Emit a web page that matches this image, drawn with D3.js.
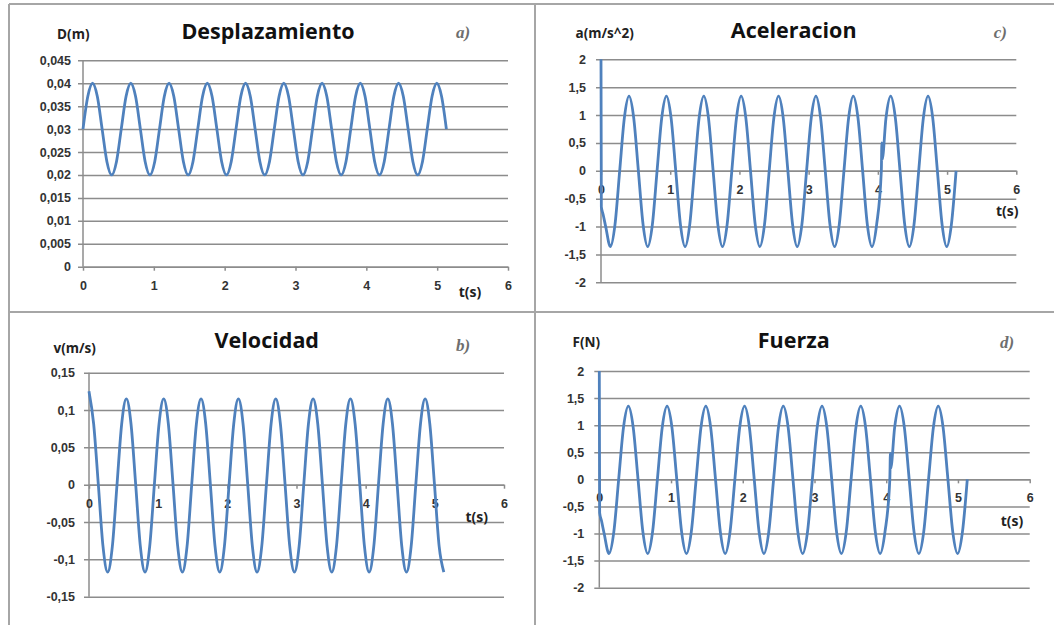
<!DOCTYPE html>
<html>
<head>
<meta charset="utf-8">
<script src="https://cdn.jsdelivr.net/npm/d3@7"></script>
<style>
  body { margin: 0; background: #fff; }
  svg { display: block; font-family: "Open Sans", "Noto Sans", sans-serif; }
</style>
</head>
<body>
<div id="chart"></div>
<script>
// time samples (s), every 1/8 of a period
const tiempo = [
  0, 0.0675, 0.135, 0.2025, 0.27, 0.3375, 0.405, 0.4725,
  0.54, 0.6075, 0.675, 0.7425, 0.81, 0.8775, 0.945, 1.0125,
  1.08, 1.1475, 1.215, 1.2825, 1.35, 1.4175, 1.485, 1.5525,
  1.62, 1.6875, 1.755, 1.8225, 1.89, 1.9575, 2.025, 2.0925,
  2.16, 2.2275, 2.295, 2.3625, 2.43, 2.4975, 2.565, 2.6325,
  2.7, 2.7675, 2.835, 2.9025, 2.97, 3.0375, 3.105, 3.1725,
  3.24, 3.3075, 3.375, 3.4425, 3.51, 3.5775, 3.645, 3.7125,
  3.78, 3.8475, 3.915, 3.9825, 4.05, 4.1175, 4.185, 4.2525,
  4.32, 4.3875, 4.455, 4.5225, 4.59, 4.6575, 4.725, 4.7925,
  4.86, 4.9275, 4.995, 5.0625, 5.13
];

// a) D(m)
const desplazamiento = [
  0.03, 0.0371, 0.04, 0.0371, 0.03, 0.0229, 0.02, 0.0229,
  0.03, 0.0371, 0.04, 0.0371, 0.03, 0.0229, 0.02, 0.0229,
  0.03, 0.0371, 0.04, 0.0371, 0.03, 0.0229, 0.02, 0.0229,
  0.03, 0.0371, 0.04, 0.0371, 0.03, 0.0229, 0.02, 0.0229,
  0.03, 0.0371, 0.04, 0.0371, 0.03, 0.0229, 0.02, 0.0229,
  0.03, 0.0371, 0.04, 0.0371, 0.03, 0.0229, 0.02, 0.0229,
  0.03, 0.0371, 0.04, 0.0371, 0.03, 0.0229, 0.02, 0.0229,
  0.03, 0.0371, 0.04, 0.0371, 0.03, 0.0229, 0.02, 0.0229,
  0.03, 0.0371, 0.04, 0.0371, 0.03, 0.0229, 0.02, 0.0229,
  0.03, 0.0371, 0.04, 0.0371, 0.03
];

// b) v(m/s)
const velocidad = [
  0.125, 0.0813, 0, -0.0827, -0.117, -0.0827, 0, 0.0813,
  0.115, 0.0813, 0, -0.0827, -0.117, -0.0827, 0, 0.0813,
  0.115, 0.0813, 0, -0.0827, -0.117, -0.0827, 0, 0.0813,
  0.115, 0.0813, 0, -0.0827, -0.117, -0.0827, 0, 0.0813,
  0.115, 0.0813, 0, -0.0827, -0.117, -0.0827, 0, 0.0813,
  0.115, 0.0813, 0, -0.0827, -0.117, -0.0827, 0, 0.0813,
  0.115, 0.0813, 0, -0.0827, -0.117, -0.0827, 0, 0.0813,
  0.115, 0.0813, 0, -0.0827, -0.117, -0.0827, 0, 0.0813,
  0.115, 0.0813, 0, -0.0827, -0.117, -0.0827, 0, 0.0813,
  0.115, 0.0813, 0, -0.0827, -0.117
];

// c) a(m/s^2)
const aceleracion = [
  2, -1.0, -1.36, -0.96, 0, 0.95, 1.34, 0.95,
  0, -0.96, -1.36, -0.96, 0, 0.95, 1.34, 0.95,
  0, -0.96, -1.36, -0.96, 0, 0.95, 1.34, 0.95,
  0, -0.96, -1.36, -0.96, 0, 0.95, 1.34, 0.95,
  0, -0.96, -1.36, -0.96, 0, 0.95, 1.34, 0.95,
  0, -0.96, -1.36, -0.96, 0, 0.95, 1.34, 0.95,
  0, -0.96, -1.36, -0.96, 0, 0.95, 1.34, 0.95,
  0, -0.96, -1.36, -0.96, 0, 0.95, 1.34, 0.95,
  0, -0.96, -1.36, -0.96, 0, 0.95, 1.34, 0.95,
  0, -0.96, -1.36, -0.96, 0
];

// d) F(N)
const fuerza = [
  2, -1.0, -1.37, -0.97, 0, 0.96, 1.35, 0.96,
  0, -0.97, -1.37, -0.97, 0, 0.96, 1.35, 0.96,
  0, -0.97, -1.37, -0.97, 0, 0.96, 1.35, 0.96,
  0, -0.97, -1.37, -0.97, 0, 0.96, 1.35, 0.96,
  0, -0.97, -1.37, -0.97, 0, 0.96, 1.35, 0.96,
  0, -0.97, -1.37, -0.97, 0, 0.96, 1.35, 0.96,
  0, -0.97, -1.37, -0.97, 0, 0.96, 1.35, 0.96,
  0, -0.97, -1.37, -0.97, 0, 0.96, 1.35, 0.96,
  0, -0.97, -1.37, -0.97, 0, 0.96, 1.35, 0.96,
  0, -0.97, -1.37, -0.97, 0
];

// odd points in c) and d): the drop at t=0 and the little spike near t=4
const aceleracionExtra = [[0.005, -0.65], [0.03, -0.78], [4.058, 0.5], [4.062, 0.2]];
const fuerzaExtra = [[0.005, -0.62], [0.03, -0.76], [4.058, 0.48], [4.062, 0.2]];

// ticks
const tTicks = [0, 1, 2, 3, 4, 5, 6];
const dTicks = [0, 0.005, 0.01, 0.015, 0.02, 0.025, 0.03, 0.035, 0.04, 0.045];
const vTicks = [-0.15, -0.1, -0.05, 0, 0.05, 0.1, 0.15];
const aTicks = [-2, -1.5, -1, -0.5, 0, 0.5, 1, 1.5, 2];
const fTicks = [-2, -1.5, -1, -0.5, 0, 0.5, 1, 1.5, 2];

const lineColor = "#4f81bd";
const gridColor = "#8c8c8c";
const fmt = (d) => String(d).replace(".", ",");

const svg = d3
  .select("#chart")
  .append("svg")
  .attr("width", 1054)
  .attr("height", 625);

// panel frame
const frame = [
  [9, 4, 1054, 4],
  [9, 4, 9, 625],
  [535, 4, 535, 625],
  [9, 312, 1054, 312],
];
svg
  .append("g")
  .selectAll("line")
  .data(frame)
  .enter()
  .append("line")
  .attr("x1", (d) => d[0])
  .attr("y1", (d) => d[1])
  .attr("x2", (d) => d[2])
  .attr("y2", (d) => d[3])
  .attr("stroke", "#a6a6a6")
  .attr("stroke-width", 2);

const panels = [
  {
    values: desplazamiento, extra: [], yTicks: dTicks, yDomain: [0, 0.045],
    left: 83, right: 508, top: 60.3, bottom: 266.7, gap: 12,
    title: "Desplazamiento", titleX: 268, titleY: 38.5,
    unit: "D(m)", unitX: 73.3, unitY: 39,
    letter: "a)", letterX: 463, letterY: 38,
    tX: 470, tY: 297,
  },
  {
    values: velocidad, extra: [], yTicks: vTicks, yDomain: [-0.15, 0.15],
    left: 89, right: 504, top: 372.7, bottom: 596.7, gap: 14,
    title: "Velocidad", titleX: 266.8, titleY: 347.5,
    unit: "v(m/s)", unitX: 74.7, unitY: 353,
    letter: "b)", letterX: 463, letterY: 351,
    tX: 476.7, tY: 522,
  },
  {
    values: aceleracion, extra: aceleracionExtra, yTicks: aTicks, yDomain: [-2, 2],
    left: 601, right: 1016.3, top: 59.3, bottom: 282.3, gap: 15,
    title: "Aceleracion", titleX: 793.7, titleY: 38.3,
    unit: "a(m/s^2)", unitX: 604.7, unitY: 38,
    letter: "c)", letterX: 1000.3, letterY: 38,
    tX: 1007.3, tY: 215.5,
  },
  {
    values: fuerza, extra: fuerzaExtra, yTicks: fTicks, yDomain: [-2, 2],
    left: 599.3, right: 1029.7, top: 371, bottom: 587.7, gap: 15,
    title: "Fuerza", titleX: 793.7, titleY: 347.5,
    unit: "F(N)", unitX: 586.3, unitY: 346.5,
    letter: "d)", letterX: 1007, letterY: 348,
    tX: 1012, tY: 526,
  },
];

const drawPanel = (p) => {
  const x = d3.scaleLinear().domain([0, 6]).range([p.left, p.right]);
  const y = d3.scaleLinear().domain(p.yDomain).range([p.bottom, p.top]);

  // gridlines and y labels
  svg
    .append("g")
    .attr("transform", "translate(" + (p.left - 5) + ",0)")
    .call(
      d3
        .axisLeft(y)
        .tickValues(p.yTicks)
        .tickSize(-(p.right - p.left + 5))
        .tickPadding(p.gap - 5)
        .tickFormat(fmt)
    )
    .call((g) => g.select(".domain").remove())
    .call((g) =>
      g.selectAll("line").attr("stroke", gridColor).attr("stroke-width", 1.5)
    )
    .call((g) =>
      g
        .selectAll("text")
        .attr("fill", "#333")
        .style("font-size", "12.5px")
        .style("font-weight", "bold")
    );

  // y axis line
  svg
    .append("line")
    .attr("x1", p.left)
    .attr("x2", p.left)
    .attr("y1", p.top)
    .attr("y2", p.bottom)
    .attr("stroke", gridColor)
    .attr("stroke-width", 1.5);

  // x axis at value 0
  svg
    .append("g")
    .attr("transform", "translate(0," + y(0) + ")")
    .call(
      d3
        .axisBottom(x)
        .tickValues(tTicks)
        .tickSize(4)
        .tickSizeOuter(0)
        .tickPadding(10)
        .tickFormat(fmt)
    )
    .call((g) =>
      g
        .selectAll("line, path")
        .attr("stroke", gridColor)
        .attr("stroke-width", 1.5)
    )
    .call((g) =>
      g
        .selectAll("text")
        .attr("fill", "#333")
        .style("font-size", "12.5px")
        .style("font-weight", "bold")
    );

  // the curve
  const pts = tiempo
    .map((t, i) => [t, p.values[i]])
    .concat(p.extra)
    .sort((a, b) => a[0] - b[0]);

  const line = d3
    .line()
    .x((d) => x(d[0]))
    .y((d) => y(d[1]))
    .curve(d3.curveMonotoneX);

  svg
    .append("path")
    .datum(pts)
    .attr("fill", "none")
    .attr("stroke", lineColor)
    .attr("stroke-width", 2.8)
    .attr("stroke-linejoin", "round")
    .attr("d", line);

  // title
  svg
    .append("text")
    .attr("x", p.titleX)
    .attr("y", p.titleY)
    .style("text-anchor", "middle")
    .style("font-size", "21.5px")
    .style("font-weight", "bold")
    .attr("fill", "#111")
    .text(p.title);

  // unit label
  svg
    .append("text")
    .attr("x", p.unitX)
    .attr("y", p.unitY)
    .style("text-anchor", "middle")
    .style("font-size", "13.5px")
    .style("font-weight", "bold")
    .attr("fill", "#222")
    .text(p.unit);

  // panel letter
  svg
    .append("text")
    .attr("x", p.letterX)
    .attr("y", p.letterY)
    .style("text-anchor", "middle")
    .style("font-family", "'Liberation Serif', 'DejaVu Serif', serif")
    .style("font-style", "italic")
    .style("font-weight", "bold")
    .style("font-size", "17px")
    .attr("fill", "#6e6e6e")
    .text(p.letter);

  // t(s) label
  svg
    .append("text")
    .attr("x", p.tX)
    .attr("y", p.tY)
    .style("text-anchor", "middle")
    .style("font-size", "14px")
    .style("font-weight", "bold")
    .attr("fill", "#222")
    .text("t(s)");
};

panels.forEach(drawPanel);
</script>
</body>
</html>
